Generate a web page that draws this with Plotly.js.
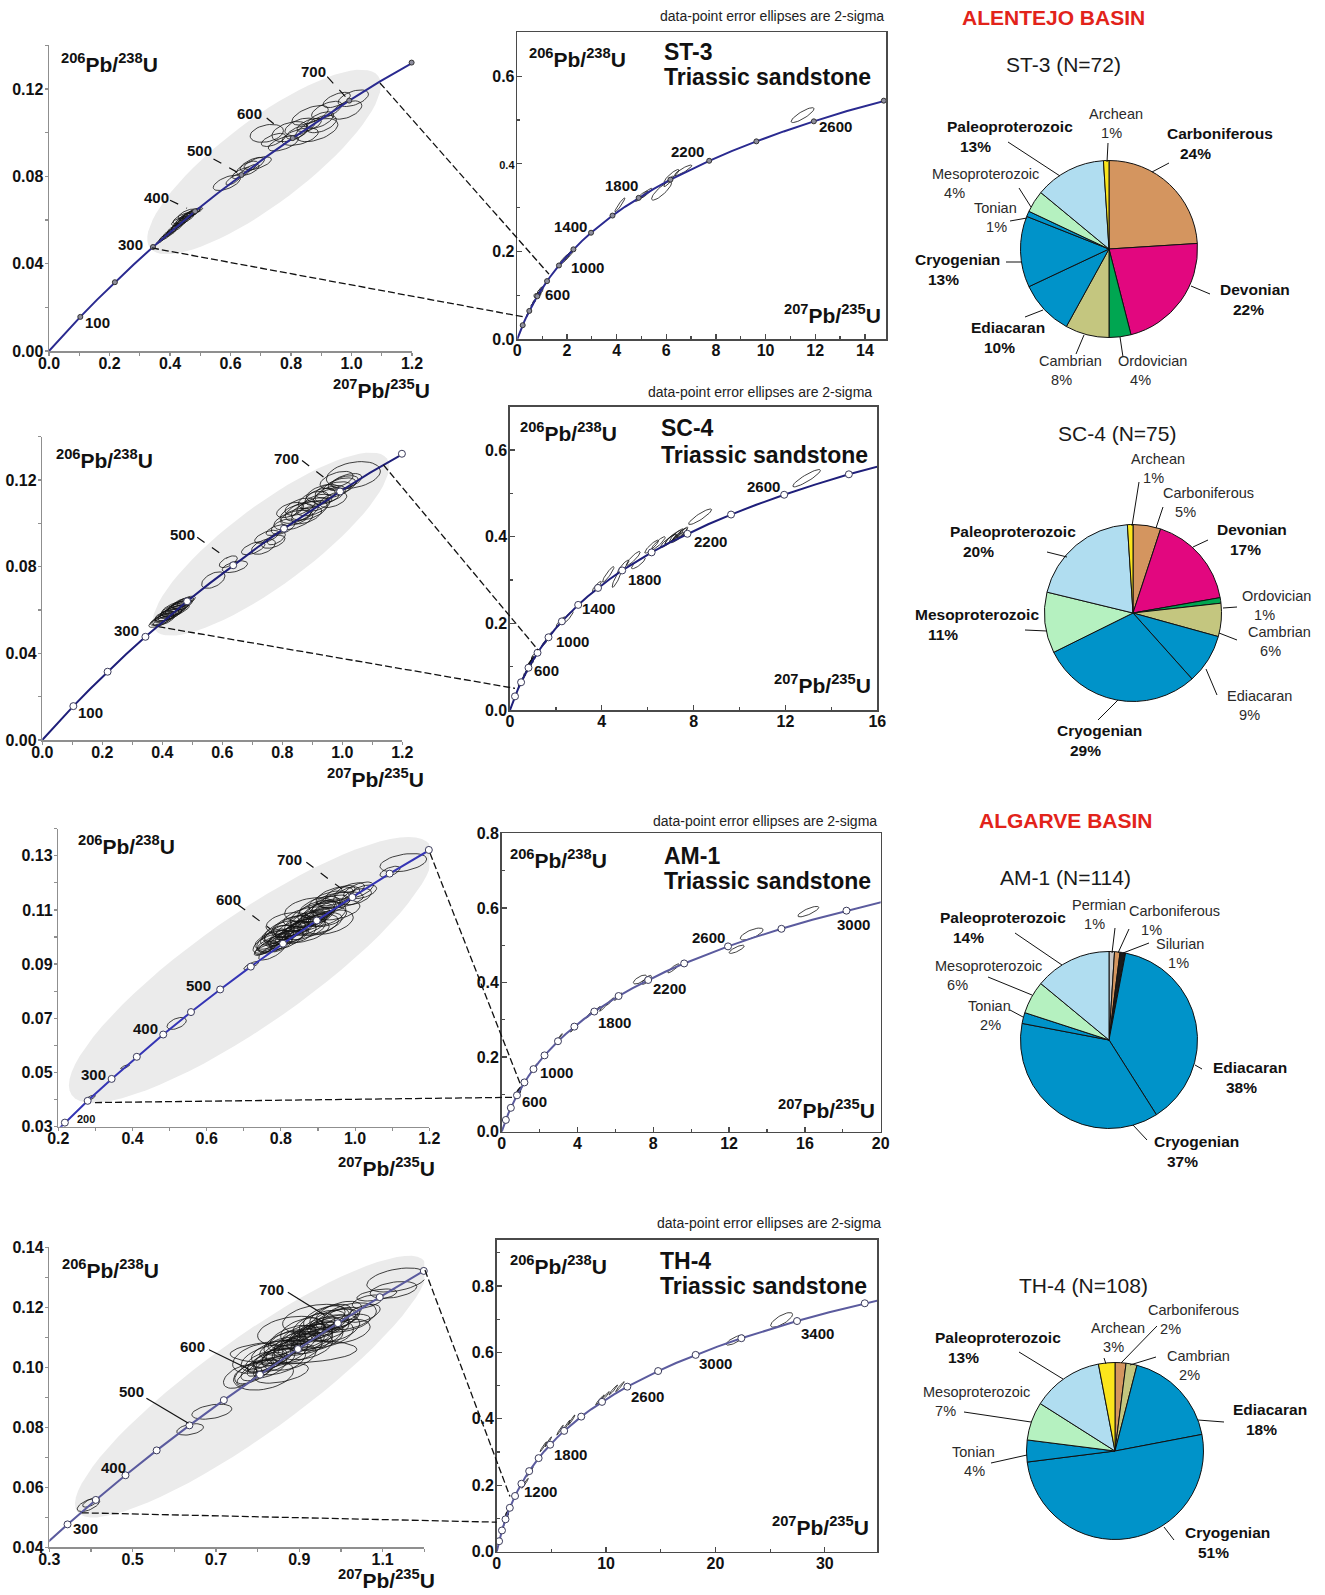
<!DOCTYPE html>
<html>
<head>
<meta charset="utf-8">
<script src="https://cdn.plot.ly/plotly-3.0.1.min.js"></script>
<style>html,body{margin:0;padding:0;background:#fff;} #chart{width:1325px;height:1595px;}</style>
</head>
<body>
<div id="chart"></div>
<script>
// ================= DATA =================
// Wetherill concordia reference points (age Ma, 207Pb/235U, 206Pb/238U)
const concAge = [0,50,100,150,200,250,300,350,400,450,500,550,600,650,700,750,800,850,900,950,1000,1100,1200,1300,1400,1500,1600,1700,1800,1900,2000,2100,2200,2300,2400,2500,2600,2700,2800,2900,3000,3100,3200,3300,3400,3500,3600,3700];
const concX = [0,0.05048,0.10350,0.15920,0.21771,0.27917,0.34374,0.41156,0.48281,0.55766,0.63628,0.71887,0.80563,0.89677,0.99251,1.09308,1.19873,1.30971,1.42629,1.54876,1.67741,1.95452,2.26030,2.59774,2.97010,3.38099,3.83442,4.33477,4.88690,5.49619,6.16852,6.91045,7.72916,8.63262,9.62957,10.72971,11.94371,13.28335,14.76165,16.39294,18.19306,20.17953,22.37155,24.79047,27.45974,30.40525,33.65565,37.24234];
const concY = [0,0.007786,0.015633,0.023542,0.031511,0.039543,0.047637,0.055795,0.064016,0.072300,0.080650,0.089064,0.097544,0.106090,0.114702,0.123382,0.132129,0.140944,0.149828,0.158781,0.167804,0.186061,0.204603,0.223435,0.242562,0.261987,0.281716,0.301754,0.322105,0.342774,0.363766,0.385087,0.406740,0.428732,0.451068,0.473753,0.496793,0.520192,0.543959,0.568095,0.592611,0.617510,0.642797,0.668478,0.694563,0.721056,0.747961,0.775288];

// error ellipses: [207/235 centre, 206/238 centre, 2s half-width x, 2s half-width y, rho]
const st3Ellipses = [
[0.368,0.0505,0.012,0.0013,0.85],[0.378,0.0518,0.014,0.0014,0.85],[0.385,0.0525,0.020,0.0020,0.85],[0.392,0.0535,0.015,0.0016,0.85],
[0.398,0.0540,0.022,0.0020,0.80],[0.405,0.0548,0.018,0.0018,0.85],[0.410,0.0556,0.020,0.0019,0.85],[0.416,0.0562,0.025,0.0022,0.80],
[0.421,0.0570,0.018,0.0016,0.85],[0.426,0.0575,0.022,0.0020,0.85],[0.432,0.0583,0.025,0.0022,0.80],[0.436,0.0590,0.020,0.0018,0.85],
[0.441,0.0596,0.028,0.0024,0.80],[0.446,0.0603,0.022,0.0020,0.85],[0.450,0.0607,0.030,0.0025,0.75],[0.455,0.0615,0.024,0.0020,0.85],
[0.460,0.0620,0.030,0.0024,0.80],[0.465,0.0626,0.025,0.0020,0.80],[0.470,0.0630,0.028,0.0022,0.80],[0.476,0.0633,0.022,0.0018,0.80],
[0.482,0.0638,0.020,0.0018,0.80],[0.440,0.0608,0.030,0.0025,0.70],[0.455,0.0628,0.028,0.0022,0.70],[0.430,0.0595,0.025,0.0020,0.70],
[0.490,0.0642,0.018,0.0015,0.80],
[0.588,0.0770,0.045,0.0035,0.60],[0.610,0.0785,0.025,0.0025,0.75],[0.635,0.0815,0.030,0.0025,0.70],[0.655,0.0840,0.035,0.0030,0.70],
[0.672,0.0855,0.040,0.0032,0.65],[0.690,0.0860,0.045,0.0030,0.60],[0.665,0.0830,0.030,0.0025,0.70],
[0.720,0.0997,0.055,0.0041,0.30],[0.797,0.1005,0.060,0.0046,0.40],[0.830,0.1027,0.050,0.0040,0.50],[0.885,0.1012,0.070,0.0053,0.50],
[0.863,0.1080,0.060,0.0045,0.60],[0.918,0.1104,0.050,0.0040,0.60],[0.984,0.1104,0.050,0.0042,0.50],[1.006,0.1158,0.050,0.0038,0.50],
[0.951,0.1150,0.045,0.0035,0.60],[0.742,0.0967,0.040,0.0030,0.60],[0.775,0.0951,0.050,0.0035,0.60],[0.830,0.0982,0.060,0.0040,0.50],
[0.896,0.1058,0.045,0.0038,0.60],[0.860,0.1035,0.040,0.0030,0.60],[0.820,0.1000,0.035,0.0030,0.60],[0.900,0.1040,0.050,0.0040,0.50],
[1.900,0.182,0.20,0.012,0.90],[2.050,0.190,0.18,0.010,0.90],[2.150,0.198,0.10,0.007,0.90],[4.130,0.306,0.20,0.016,0.95],
[5.000,0.326,0.25,0.012,0.92],[5.200,0.333,0.22,0.011,0.92],[5.810,0.338,0.40,0.021,0.85],[6.100,0.360,0.20,0.012,0.90],
[6.210,0.372,0.30,0.015,0.90],[6.680,0.385,0.35,0.012,0.90],[11.49,0.511,0.46,0.017,0.85]
];
const sc4Ellipses = [
[0.390,0.0545,0.035,0.0025,0.70],[0.400,0.0556,0.040,0.0027,0.70],[0.410,0.0566,0.035,0.0025,0.70],[0.415,0.0575,0.040,0.0028,0.70],
[0.420,0.0578,0.045,0.0030,0.65],[0.430,0.0590,0.040,0.0028,0.70],[0.435,0.0592,0.042,0.0030,0.70],[0.440,0.0602,0.045,0.0030,0.65],
[0.450,0.0610,0.040,0.0028,0.70],[0.455,0.0618,0.038,0.0027,0.70],[0.460,0.0620,0.040,0.0028,0.70],[0.470,0.0633,0.035,0.0025,0.70],
[0.480,0.0642,0.030,0.0022,0.70],[0.405,0.0552,0.035,0.0025,0.70],[0.425,0.0578,0.040,0.0027,0.70],[0.445,0.0598,0.045,0.0030,0.70],
[0.440,0.0612,0.040,0.0028,0.70],[0.465,0.0632,0.035,0.0025,0.70],[0.395,0.0556,0.030,0.0025,0.70],
[0.570,0.0738,0.039,0.0038,0.50],[0.642,0.0800,0.042,0.0027,0.50],[0.620,0.0823,0.030,0.0027,0.60],[0.703,0.0885,0.039,0.0030,0.60],
[0.737,0.0892,0.040,0.0035,0.50],[0.770,0.0915,0.039,0.0030,0.50],[0.780,0.0931,0.030,0.0030,0.60],[0.748,0.0938,0.040,0.0030,0.60],
[0.781,0.0969,0.035,0.0025,0.60],
[0.848,0.1046,0.055,0.0046,0.50],[0.859,0.1077,0.050,0.0040,0.50],[0.837,0.1015,0.065,0.0046,0.50],[0.903,0.1077,0.055,0.0042,0.50],
[0.926,0.1123,0.050,0.0040,0.50],[0.970,0.1154,0.060,0.0038,0.50],[1.003,0.1185,0.050,0.0035,0.50],[1.037,0.1223,0.090,0.0062,0.30],
[0.981,0.1200,0.055,0.0040,0.50],[0.903,0.1108,0.050,0.0040,0.50],[0.826,0.1062,0.045,0.0035,0.50],[0.948,0.1123,0.045,0.0035,0.50],
[0.881,0.1038,0.050,0.0040,0.50],[0.970,0.1108,0.045,0.0035,0.50],[0.803,0.0985,0.040,0.0035,0.50],
[0.865,0.1055,0.055,0.0045,0.50],[0.915,0.1095,0.050,0.0040,0.50],[0.935,0.1140,0.055,0.0040,0.50],[0.960,0.1135,0.050,0.0040,0.50],
[0.990,0.1170,0.055,0.0040,0.50],[1.015,0.1195,0.050,0.0035,0.50],[0.890,0.1060,0.060,0.0045,0.50],[0.845,0.1030,0.050,0.0040,0.50],
[1.50,0.155,0.12,0.008,0.90],[1.70,0.170,0.15,0.010,0.90],[2.20,0.203,0.20,0.012,0.90],[2.50,0.213,0.25,0.015,0.90],
[3.78,0.285,0.20,0.012,0.90],[4.28,0.313,0.25,0.018,0.92],[4.65,0.303,0.20,0.020,0.90],[4.93,0.331,0.25,0.015,0.90],
[5.37,0.350,0.30,0.016,0.90],[5.59,0.339,0.30,0.013,0.85],[6.17,0.377,0.30,0.015,0.90],[6.46,0.385,0.30,0.015,0.90],
[6.90,0.390,0.35,0.015,0.90],[7.00,0.395,0.25,0.012,0.90],[7.10,0.398,0.35,0.016,0.90],[7.25,0.403,0.30,0.015,0.90],
[7.30,0.398,0.30,0.012,0.90],[7.40,0.405,0.30,0.014,0.90],[7.50,0.410,0.25,0.012,0.90],[8.28,0.446,0.50,0.018,0.90],
[12.92,0.535,0.60,0.020,0.90]
];
const am1Ellipses = [
[0.285,0.0405,0.015,0.0012,0.80],[0.380,0.0521,0.012,0.0008,0.80],[0.519,0.0681,0.026,0.0022,0.50],
[0.720,0.0895,0.020,0.0015,0.80],[0.753,0.0952,0.025,0.0020,0.70],[0.780,0.1000,0.035,0.0030,0.60],[0.789,0.1014,0.040,0.0030,0.60],
[0.825,0.1038,0.050,0.0040,0.50],[0.870,0.1075,0.063,0.0037,0.50],[0.905,0.1050,0.060,0.0040,0.50],[0.923,0.1075,0.054,0.0037,0.40],
[0.950,0.1100,0.063,0.0037,0.40],[0.959,0.1137,0.063,0.0030,0.40],[1.004,0.1149,0.040,0.0030,0.50],[1.009,0.1173,0.040,0.0030,0.60],
[0.977,0.1155,0.035,0.0030,0.60],[1.022,0.1167,0.036,0.0025,0.50],[1.094,0.1241,0.027,0.0020,0.60],[1.130,0.1274,0.063,0.0034,0.40],
[0.760,0.0960,0.030,0.0025,0.70],[0.770,0.0975,0.035,0.0028,0.70],[0.780,0.0970,0.040,0.0030,0.60],[0.790,0.0990,0.030,0.0025,0.70],
[0.800,0.0995,0.035,0.0028,0.70],[0.810,0.1005,0.040,0.0030,0.60],[0.820,0.1015,0.030,0.0025,0.70],[0.830,0.1005,0.045,0.0030,0.60],
[0.840,0.1030,0.035,0.0028,0.70],[0.850,0.1035,0.040,0.0030,0.60],[0.860,0.1050,0.035,0.0028,0.70],[0.870,0.1040,0.050,0.0035,0.60],
[0.880,0.1065,0.040,0.0030,0.60],[0.890,0.1070,0.045,0.0032,0.60],[0.900,0.1080,0.040,0.0030,0.60],[0.910,0.1100,0.045,0.0035,0.60],
[0.920,0.1110,0.040,0.0030,0.60],[0.935,0.1120,0.050,0.0035,0.50],[0.950,0.1135,0.045,0.0030,0.50],[0.960,0.1160,0.040,0.0030,0.60],
[0.985,0.1170,0.040,0.0030,0.60],[0.800,0.0970,0.030,0.0025,0.70],[0.840,0.1005,0.030,0.0025,0.70],[0.870,0.1020,0.060,0.0040,0.50],
[0.895,0.1045,0.060,0.0040,0.40],
[0.765,0.0975,0.040,0.0035,0.60],[0.775,0.0990,0.045,0.0035,0.60],[0.785,0.0985,0.050,0.0040,0.50],[0.795,0.1010,0.040,0.0035,0.60],
[0.805,0.1020,0.050,0.0040,0.50],[0.815,0.0990,0.045,0.0035,0.60],[0.825,0.1025,0.040,0.0035,0.60],[0.835,0.1040,0.055,0.0040,0.50],
[0.845,0.1015,0.050,0.0040,0.50],[0.855,0.1055,0.045,0.0035,0.60],[0.865,0.1030,0.055,0.0040,0.50],[0.875,0.1060,0.050,0.0040,0.50],
[0.885,0.1080,0.060,0.0045,0.50],[0.895,0.1095,0.050,0.0040,0.50],[0.905,0.1110,0.055,0.0040,0.50],[0.915,0.1085,0.060,0.0045,0.40],
[0.930,0.1130,0.055,0.0040,0.50],[0.945,0.1150,0.050,0.0035,0.50],[0.820,0.1050,0.060,0.0040,0.30],[0.880,0.1100,0.070,0.0045,0.30],
[0.930,0.1055,0.065,0.0045,0.40],[0.775,0.0945,0.035,0.0030,0.70],
[1.76,0.174,0.10,0.008,0.95],[3.08,0.255,0.12,0.008,0.95],[3.78,0.277,0.15,0.010,0.95],[4.66,0.315,0.20,0.010,0.95],
[5.01,0.326,0.20,0.010,0.95],[5.36,0.333,0.20,0.010,0.95],[5.72,0.349,0.20,0.010,0.95],[6.15,0.362,0.20,0.010,0.95],
[7.30,0.408,0.35,0.012,0.70],[7.65,0.407,0.25,0.012,0.80],[9.06,0.438,0.30,0.012,0.90],[12.40,0.489,0.40,0.011,0.80],
[13.19,0.530,0.60,0.016,0.70],[16.18,0.590,0.55,0.014,0.80]
];
const th4Ellipses = [
[0.394,0.0541,0.027,0.0022,0.60],[0.400,0.0550,0.020,0.0016,0.70],[0.638,0.0793,0.032,0.0019,0.40],[0.690,0.0852,0.048,0.0025,0.40],
[0.758,0.0969,0.040,0.0039,0.50],[0.886,0.1052,0.152,0.0039,0.20],[0.806,0.1021,0.035,0.0030,0.60],[0.858,0.0980,0.064,0.0033,0.50],
[0.814,0.0974,0.072,0.0050,0.30],[1.014,0.1147,0.056,0.0030,0.50],[1.054,0.1180,0.040,0.0030,0.50],[1.063,0.1219,0.036,0.0022,0.50],
[1.086,0.1241,0.048,0.0020,0.50],[1.126,0.1258,0.056,0.0028,0.40],[1.134,0.1291,0.072,0.0040,0.40],
[0.780,0.0970,0.030,0.0030,0.70],[0.800,0.0990,0.040,0.0035,0.60],[0.810,0.1000,0.035,0.0030,0.70],[0.820,0.1015,0.045,0.0035,0.60],
[0.830,0.1030,0.040,0.0030,0.60],[0.840,0.1025,0.050,0.0040,0.50],[0.850,0.1040,0.040,0.0035,0.60],[0.860,0.1060,0.045,0.0035,0.60],
[0.870,0.1050,0.050,0.0040,0.50],[0.880,0.1070,0.040,0.0035,0.60],[0.890,0.1080,0.050,0.0040,0.50],[0.900,0.1095,0.045,0.0035,0.60],
[0.910,0.1080,0.050,0.0040,0.50],[0.920,0.1110,0.045,0.0035,0.60],[0.930,0.1105,0.050,0.0040,0.50],[0.940,0.1120,0.045,0.0035,0.60],
[0.950,0.1130,0.050,0.0038,0.50],[0.960,0.1125,0.060,0.0040,0.50],[0.970,0.1140,0.050,0.0035,0.50],[0.980,0.1155,0.055,0.0040,0.50],
[0.990,0.1160,0.050,0.0035,0.50],[1.000,0.1165,0.045,0.0035,0.50],[0.870,0.1090,0.045,0.0035,0.60],[0.900,0.1110,0.040,0.0030,0.60],
[0.930,0.1085,0.050,0.0040,0.50],[0.950,0.1095,0.055,0.0040,0.50],[0.850,0.1065,0.045,0.0035,0.60],[0.830,0.1000,0.040,0.0035,0.60],
[0.960,0.1165,0.050,0.0040,0.50],[1.010,0.1120,0.060,0.0040,0.40],
[0.820,0.1030,0.060,0.0045,0.50],[0.840,0.1050,0.055,0.0040,0.50],[0.855,0.1020,0.060,0.0045,0.50],[0.865,0.1080,0.050,0.0040,0.50],
[0.875,0.1035,0.065,0.0045,0.40],[0.885,0.1100,0.055,0.0040,0.50],[0.895,0.1060,0.060,0.0045,0.50],[0.905,0.1125,0.050,0.0040,0.50],
[0.915,0.1070,0.065,0.0045,0.40],[0.925,0.1095,0.055,0.0040,0.50],[0.935,0.1140,0.050,0.0040,0.50],[0.945,0.1105,0.060,0.0045,0.50],
[0.955,0.1150,0.055,0.0040,0.50],[0.965,0.1110,0.065,0.0045,0.40],[0.975,0.1170,0.050,0.0040,0.50],[0.985,0.1130,0.060,0.0045,0.40],
[0.995,0.1180,0.055,0.0040,0.50],[1.020,0.1170,0.065,0.0045,0.40],[0.880,0.1120,0.080,0.0050,0.30],[0.940,0.1160,0.080,0.0050,0.30],
[0.800,0.1030,0.060,0.0050,0.40],[0.790,0.0985,0.045,0.0040,0.60],
[2.59,0.206,0.30,0.015,0.97],[3.04,0.241,0.30,0.015,0.97],[4.26,0.316,0.30,0.015,0.97],[4.72,0.331,0.30,0.015,0.97],
[5.79,0.366,0.30,0.015,0.97],[6.40,0.381,0.30,0.015,0.97],[6.86,0.397,0.30,0.015,0.97],[9.44,0.457,0.40,0.015,0.97],
[9.90,0.467,0.40,0.015,0.97],[10.66,0.487,0.40,0.015,0.97],[11.27,0.497,0.40,0.015,0.97],[21.78,0.637,0.80,0.015,0.80],
[26.05,0.698,1.00,0.022,0.75]
];

// zoom-window (grey ellipse) tips in zoom-panel data coordinates: [lower-left, upper-right]
const zoomTipsX = [[0.334,1.088],[0.376,1.148],[0.236,1.202],[0.367,1.2016]];
const zoomTipsY = [[0.0472,0.126],[0.0508,0.130],[0.0417,0.134],[0.0519,0.1352]];
// link lines: [zoomX, zoomY, fullX, fullY]
const linkUpper = [[1.094,0.1228,1.276,0.148],[1.137,0.127,1.233,0.138],[1.202,0.1309,0.966,0.130],[1.2016,0.1324,1.216,0.166]];
const linkLower = [[0.3405,0.0472,0.31,0.050],[0.387,0.0523,0.218,0.050],[0.299,0.0389,0.612,0.0922],[0.378,0.0515,0.0,0.089]];

// pie data (clockwise from 12 o'clock), percent
const st3Periods = ['Carboniferous','Devonian','Ordovician','Cambrian','Ediacaran','Cryogenian','Tonian','Mesoproterozoic','Paleoproterozoic','Archean'];
const st3Pct = [24,22,4,8,10,13,1,4,13,1];
const sc4Periods = ['Carboniferous','Devonian','Ordovician','Cambrian','Ediacaran','Cryogenian','Mesoproterozoic','Paleoproterozoic','Archean'];
const sc4Pct = [5,17,1,6,9,29,11,20,1];
const am1Periods = ['Permian','Carboniferous','Silurian','Ediacaran','Cryogenian','Tonian','Mesoproterozoic','Paleoproterozoic'];
const am1Pct = [1,1,1,38,37,2,6,14];
const th4Periods = ['Carboniferous','Cambrian','Ediacaran','Cryogenian','Tonian','Mesoproterozoic','Paleoproterozoic','Archean'];
const th4Pct = [2,2,18,51,4,7,13,3];
const pieTitles = ['ST-3 (N=72)','SC-4 (N=75)','AM-1 (N=114)','TH-4 (N=108)'];
const sampleNames = ['ST-3','SC-4','AM-1','TH-4'];

// ================= STYLE / LAYOUT =================
const FONT = 'Liberation Sans, Arial, Helvetica, sans-serif';
const W = 1325, H = 1595;
const periodColor = {Permian:'#c8c8c8',Carboniferous:'#d4955f',Silurian:'#1a1a1a',Devonian:'#e2077f',Ordovician:'#00a651',
  Cambrian:'#c4c67f',Ediacaran:'#0093c9',Cryogenian:'#0093c9',Tonian:'#0093c9',Mesoproterozoic:'#b5f1c0',Paleoproterozoic:'#b0ddf0',Archean:'#fbe51c'};

const panels = {
  z1:{box:[49,45.4,412,351], xr:[0,1.2], yr:[0,0.14]},
  f1:{box:[517.3,32.3,886,339], xr:[0,14.85], yr:[0,0.7]},
  z2:{box:[42.3,436.7,402.3,740], xr:[0,1.2], yr:[0,0.14]},
  f2:{box:[510,406.7,877.3,710], xr:[0,16], yr:[0,0.7]},
  z3:{box:[58.3,828.6,429.3,1126.7], xr:[0.2,1.2], yr:[0.03,0.14]},
  f3:{box:[501.7,833.3,880.7,1131.7], xr:[0,20], yr:[0,0.8]},
  z4:{box:[49.3,1247.3,424.3,1547.3], xr:[0.3,1.2], yr:[0.04,0.14]},
  f4:{box:[496.7,1239.5,877.3,1551.7], xr:[0,34.8], yr:[0,0.94]}
};
const panelKeys = ['z1','f1','z2','f2','z3','f3','z4','f4'];
const tickDefs = {
  z1:{x:[0,0.2,0.1,'.1f'], y:[0,0.04,0.02,'.2f']},
  f1:{x:[0,2,1,'d'], y:[0,0.2,0.1,'.1f']},
  z2:{x:[0,0.2,0.1,'.1f'], y:[0,0.04,0.02,'.2f']},
  f2:{x:[0,4,2,'d'], y:[0,0.2,0.1,'.1f']},
  z3:{x:[0.2,0.2,0.1,'.1f'], y:[0.03,0.02,0.01,'.2f']},
  f3:{x:[0,4,2,'d'], y:[0,0.2,0.1,'.1f']},
  z4:{x:[0.3,0.2,0.1,'.1f'], y:[0.04,0.02,0.01,'.2f']},
  f4:{x:[0,10,5,'d'], y:[0,0.2,0.1,'.1f']}
};
const curveColor = {z1:'#2a2a90',f1:'#2a2a90',z2:'#1f1f7a',f2:'#1f1f7a',z3:'#3535b5',f3:'#5b5b9e',z4:'#5b5b9e',f4:'#5b5b9e'};
const markerStep = {z1:100,f1:200,z2:100,f2:200,z3:50,f3:200,z4:50,f4:200};
const greyMinorPx = [42,40,55,48];
// age labels: [age, dx, dy (screen px, +down), leader [x0,y0,x1,y1] offsets or null, fontsize]
const ageLabels = {
  z1:[[100,17,6],[300,-22,-3],[400,-39,-14,[-25,-11,-8,-3]],[500,-42,-24,[-28,-16,-3,-2]],[600,-43,-25,[-26,-20,-16,-12]],[700,-36,-29,[-22,-24,-2,-2]]],
  f1:[[600,20,-2],[1000,29,2],[1400,-21,-6],[1800,-17,-12],[2200,-22,-9],[2600,22,5]],
  z2:[[100,17,6],[300,-19,-6],[500,-51,-31,[-36,-28,-6,-7]],[700,-54,-33,[-38,-31,-12,-11]]],
  f2:[[600,18,3],[1000,24,4],[1400,20,4],[1800,22,9],[2200,23,8],[2600,-21,-8]],
  z3:[[200,21,-4,null,11],[300,-18,-4],[400,-18,-6],[500,-22,-4],[600,-54,-44,[-45,-39,-13,-15]],[700,-63,-38,[-46,-35,-9,-7]]],
  f3:[[600,18,6],[1000,23,3],[1800,20,11],[2200,21,9],[2600,-20,-9],[3000,7,14]],
  z4:[[300,18,4],[400,-12,-8],[500,-58,-34,[-43,-27,-1,-2]],[600,-67,-28,[-51,-25,-10,-5]],[700,-66,-34,[-50,-31,-13,-8]]],
  f4:[[1200,19,8],[1800,20,10],[2600,20,10],[3000,20,9],[3400,20,12]]
};
const leaderDash = {z1:'dash',z2:'dash',z3:'dash',z4:'solid'};

// pie geometry (px) and label layout: [left, centreY, leaderX1, leaderY1, leaderX2, leaderY2]
const pieCentres = [[1109,249],[1133,613],[1109,1040],[1115,1451]];
const pieR = 88.5;
const pieLabelPos = [
 [[1165,144,1169,163,1152,172],[1218,299,1210,294,1191,286],[1116,371,1123,357,1120,337],[1037,371,1076,354,1084,335],
  [969,337,1025,317,1043,310],[913,269,1006,262,1021,262],[972,218,1010,221,1027,218],[930,184,1019,188,1031,207],
  [945,137,1008,142,1060,176],[1087,124,1108,143,1107,162]],
 [[1161,502,1163,507,1156,528],[1215,539,1208,540,1193,547],[1240,605,1237,607,1223,608],[1246,641,1237,640,1219,633],
  [1225,706,1217,695,1206,669],[1055,741,1098,720,1118,700],[913,625,1025,630,1047,631],[948,541,1047,552,1067,557],
  [1129,468,1139,482,1132,526]],
 [[1070,914,1115,928,1112,953],[1127,920,1129,929,1118,953],[1154,953,1149,943,1123,953],[1211,1077,1202,1069,1195,1065],
  [1152,1151,1147,1140,1133,1125],[966,1015,1010,1010,1023,1017],[933,975,988,977,1032,995],[938,927,1015,933,1062,965]],
 [[1146,1319,1157,1326,1121,1363],[1165,1365,1156,1357,1130,1365],[1231,1419,1224,1422,1198,1420],[1183,1542,1174,1540,1164,1527],
  [950,1461,991,1463,1027,1455],[921,1401,964,1412,1031,1422],[933,1347,1019,1352,1063,1379],[1089,1337,1104,1358,1106,1364]]
];
const pieTitlePos = [[1063,65],[1117,433],[1065,877],[1083,1285]];
const basinTitles = [['ALENTEJO BASIN',1053,17],['ALGARVE BASIN',1065,820]];
// text positions (px)
const rowText = [
 {zy:[59,63], zx:[331,389], fy:[527,58], fx:[782,314], nm:[662,52], sub:77, note:[886,16]},
 {zy:[54,459], zx:[325,778], fy:[518,432], fx:[772,684], nm:[659,428], sub:455, note:[874,392]},
 {zy:[76,845], zx:[336,1167], fy:[508,859], fx:[776,1109], nm:[662,856], sub:881, note:[879,821]},
 {zy:[60,1269], zx:[336,1579], fy:[508,1265], fx:[770,1526], nm:[658,1261], sub:1286, note:[883,1223]}
];

// ================= BUILD =================
function toPx(p,x,y){const b=p.box;return [b[0]+(x-p.xr[0])/(p.xr[1]-p.xr[0])*(b[2]-b[0]), b[3]-(y-p.yr[0])/(p.yr[1]-p.yr[0])*(b[3]-b[1])];}
function toData(p,px,py){const b=p.box;return [p.xr[0]+(px-b[0])/(b[2]-b[0])*(p.xr[1]-p.xr[0]), p.yr[0]+(b[3]-py)/(b[3]-b[1])*(p.yr[1]-p.yr[0])];}
function ann(text,xpx,ypx,o){return Object.assign({xref:'paper',yref:'paper',x:xpx/W,y:1-ypx/H,text:text,showarrow:false,xanchor:'center',yanchor:'middle',font:{family:FONT,size:14,color:'#111'}},o||{});}
function seg(x0,y0,x1,y1,o){return Object.assign({type:'line',xref:'paper',yref:'paper',x0:x0/W,y0:1-y0/H,x1:x1/W,y1:1-y1/H,line:{color:'#111',width:1}},o||{});}
function ellipseOutline(list){
  const xs=[],ys=[];
  list.forEach(e=>{const q=Math.sqrt(1-e[4]*e[4]);
    for(let k=0;k<=40;k++){const t=k/40*2*Math.PI;xs.push(e[0]+e[2]*Math.cos(t));ys.push(e[1]+e[3]*(e[4]*Math.cos(t)+q*Math.sin(t)));}
    xs.push(null);ys.push(null);});
  return [xs,ys];
}
function greyOutline(p,tx,ty,b){
  const a0=toPx(p,tx[0],ty[0]), a1=toPx(p,tx[1],ty[1]);
  const cx=(a0[0]+a1[0])/2, cy=(a0[1]+a1[1])/2, dx=(a1[0]-a0[0])/2, dy=(a1[1]-a0[1])/2;
  const a=Math.hypot(dx,dy), ux=dx/a, uy=dy/a, vx=-uy, vy=ux;
  const xs=[],ys=[];
  for(let k=0;k<=72;k++){const t=k/72*2*Math.PI;
    const d=toData(p,cx+a*Math.cos(t)*ux+b*Math.sin(t)*vx, cy+a*Math.cos(t)*uy+b*Math.sin(t)*vy);xs.push(d[0]);ys.push(d[1]);}
  return [xs,ys];
}

const ellipseSets = [st3Ellipses, sc4Ellipses, am1Ellipses, th4Ellipses];
const pieSets = [[st3Periods,st3Pct],[sc4Periods,sc4Pct],[am1Periods,am1Pct],[th4Periods,th4Pct]];
const traces=[], annotations=[], shapes=[];
const layout = {width:W,height:H,margin:{l:0,r:0,t:0,b:0},paper_bgcolor:'#fff',plot_bgcolor:'rgba(0,0,0,0)',showlegend:false,font:{family:FONT}};

panelKeys.forEach((k,i)=>{
  const n=i+1, s=(n===1?'':String(n)), p=panels[k], zoom=k[0]==='z', row=Math.floor(i/2);
  const lc = zoom?'#8f8f8f':'#4a4a4a';
  const td = tickDefs[k];
  const common = {showgrid:false,zeroline:false,showline:true,linecolor:lc,linewidth:zoom?1.5:1.6,mirror:!zoom,
    ticks:zoom?'outside':'inside',ticklen:zoom?3:5,tickwidth:1.2,tickcolor:lc,fixedrange:true,
    tickfont:{family:FONT,size:16,color:'#111',weight:'bold'}};
  layout['xaxis'+s] = Object.assign({},common,{domain:[p.box[0]/W,p.box[2]/W],range:p.xr,anchor:'y'+s,
    tick0:td.x[0],dtick:td.x[1],tickformat:td.x[3],ticklabelstandoff:zoom?-6:-4,
    minor:{tick0:td.x[0],dtick:td.x[2],ticks:zoom?'outside':'inside',ticklen:3,tickcolor:lc,showgrid:false}});
  const ya = Object.assign({},common,{domain:[1-p.box[3]/H,1-p.box[1]/H],range:p.yr,anchor:'x'+s,
    tick0:td.y[0],dtick:td.y[1],tickformat:td.y[3],ticklabelstandoff:-2,
    minor:{tick0:td.y[0],dtick:td.y[2],ticks:zoom?'outside':'inside',ticklen:3,tickcolor:lc,showgrid:false}});
  if(k==='f1'){ya.tickmode='array';ya.tickvals=[0,0.2,0.4,0.6];ya.ticktext=['0.0','0.2','<span style="font-size:11px">0.4</span>','0.6'];}
  layout['yaxis'+s] = ya;
  const xa='x'+s, yaa='y'+s;
  if(zoom){const g=greyOutline(p,zoomTipsX[row],zoomTipsY[row],greyMinorPx[row]);
    traces.push({type:'scatter',mode:'lines',x:g[0],y:g[1],fill:'toself',fillcolor:'#ebebeb',line:{width:0,color:'#ebebeb'},hoverinfo:'skip',xaxis:xa,yaxis:yaa});}
  const el=ellipseOutline(ellipseSets[row]);
  traces.push({type:'scatter',mode:'lines',x:el[0],y:el[1],line:{color:'#111',width:0.8},connectgaps:false,hoverinfo:'skip',xaxis:xa,yaxis:yaa});
  traces.push({type:'scatter',mode:'lines',x:concX,y:concY,line:{color:curveColor[k],width:2},hoverinfo:'skip',xaxis:xa,yaxis:yaa});
  const mx=[],my=[];
  concAge.forEach((a,j)=>{if(a>0 && a%markerStep[k]===0 && concX[j]>=p.xr[0] && concX[j]<=p.xr[1] && concY[j]>=p.yr[0] && concY[j]<=p.yr[1]){mx.push(concX[j]);my.push(concY[j]);}});
  const small = (row===0);
  traces.push({type:'scatter',mode:'markers',x:mx,y:my,cliponaxis:false,hoverinfo:'skip',xaxis:xa,yaxis:yaa,
    marker:{size:small?5:7,color:small?'#8d8d9d':'#ffffff',line:{color:small?'#333':'#3a3a5a',width:1}}});
  ageLabels[k].forEach(L=>{
    const j=concAge.indexOf(L[0]);
    annotations.push({xref:xa,yref:yaa,x:concX[j],y:concY[j],xshift:L[1],yshift:-L[2],text:'<b>'+L[0]+'</b>',showarrow:false,
      xanchor:'center',yanchor:'middle',font:{family:FONT,size:L[4]||15,color:'#111'}});
    if(L[3]){shapes.push({type:'line',xref:xa,yref:yaa,xsizemode:'pixel',ysizemode:'pixel',xanchor:concX[j],yanchor:concY[j],
      x0:L[3][0],y0:-L[3][1],x1:L[3][2],y1:-L[3][3],line:{color:'#111',width:1.2,dash:leaderDash[k]}});}
  });
});

for(let r=0;r<4;r++){
  const pz=panels['z'+(r+1)], pf=panels['f'+(r+1)];
  [linkUpper[r],linkLower[r]].forEach(L=>{const a=toPx(pz,L[0],L[1]), b=toPx(pf,L[2],L[3]);
    shapes.push(seg(a[0],a[1],b[0],b[1],{line:{color:'#111',width:1.3,dash:'7px,3px'}}));});
}

const yTitle='<b><sup>206</sup>Pb/<sup>238</sup>U</b>', xTitle='<b><sup>207</sup>Pb/<sup>235</sup>U</b>';
rowText.forEach((t,r)=>{
  const tf={family:FONT,size:21,color:'#111'};
  annotations.push(ann(yTitle,t.zy[0],t.zy[1],{xanchor:'left',font:tf}));
  annotations.push(ann(xTitle,t.zx[0],t.zx[1],{xanchor:'left',font:tf}));
  annotations.push(ann(yTitle,t.fy[0],t.fy[1],{xanchor:'left',font:tf}));
  annotations.push(ann(xTitle,t.fx[0],t.fx[1],{xanchor:'left',font:tf}));
  annotations.push(ann('<b>'+sampleNames[r]+'</b>',t.nm[0],t.nm[1],{xanchor:'left',font:{family:FONT,size:23,color:'#111'}}));
  annotations.push(ann('<b>Triassic sandstone</b>',t.nm[0],t.sub,{xanchor:'left',font:{family:FONT,size:23,color:'#111'}}));
  annotations.push(ann('data-point error ellipses are 2-sigma',t.note[0],t.note[1],{xanchor:'right',font:{family:FONT,size:14,color:'#222'}}));
});

pieSets.forEach((ps,r)=>{
  const c=pieCentres[r];
  traces.push({type:'pie',values:ps[1],labels:ps[0],sort:false,direction:'clockwise',rotation:0,textinfo:'none',hoverinfo:'none',
    showlegend:false,marker:{colors:ps[0].map(n=>periodColor[n]),line:{color:'#111',width:1}},
    domain:{x:[(c[0]-pieR)/W,(c[0]+pieR)/W],y:[1-(c[1]+pieR)/H,1-(c[1]-pieR)/H]}});
  annotations.push(ann(pieTitles[r],pieTitlePos[r][0],pieTitlePos[r][1],{font:{family:FONT,size:21,color:'#1a1a1a'}}));
  ps[0].forEach((name,j)=>{
    const L=pieLabelPos[r][j], bold=ps[1][j]>=10;
    const txt = name+'<br>&nbsp;&nbsp;&nbsp;'+ps[1][j]+'%';
    annotations.push(ann(bold?'<b>'+txt+'</b>':txt,L[0],L[1],{xanchor:'left',align:'left',
      font:{family:FONT,size:bold?15.5:14.5,color:bold?'#111':'#2a2a2a'}}));
    shapes.push(seg(L[2],L[3],L[4],L[5],{line:{color:'#111',width:1}}));
  });
});
basinTitles.forEach(b=>annotations.push(ann('<b>'+b[0]+'</b>',b[1],b[2],{font:{family:FONT,size:21,color:'#e2231a'}})));

layout.annotations=annotations; layout.shapes=shapes;
Plotly.newPlot('chart',traces,layout,{staticPlot:true,displayModeBar:false});
</script>
</body>
</html>
